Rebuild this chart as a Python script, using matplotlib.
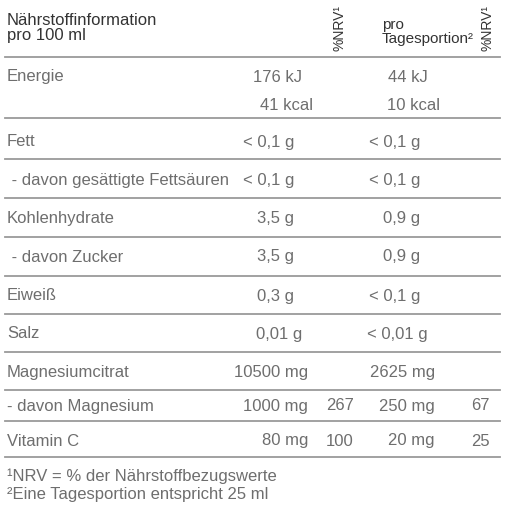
import matplotlib.pyplot as plt

FONT = ['Liberation Sans', 'DejaVu Sans']

labels = ["Energie", "", "Fett", " - davon gesättigte Fettsäuren", "Kohlenhydrate", " - davon Zucker",
          "Eiweiß", "Salz", "Magnesiumcitrat", "- davon Magnesium", "Vitamin C"]
per100 = ["176 kJ", "41 kcal", "< 0,1 g", "< 0,1 g", "3,5 g", "3,5 g", "0,3 g", "0,01 g", "10500 mg", "1000 mg", "80 mg"]
nrv1 = ["", "", "", "", "", "", "", "", "", "267", "100"]
perday = ["44 kJ", "10 kcal", "< 0,1 g", "< 0,1 g", "0,9 g", "0,9 g", "< 0,1 g", "< 0,01 g", "2625 mg", "250 mg", "20 mg"]
nrv2 = ["", "", "", "", "", "", "", "", "", "67", "25"]
footnotes = ["¹NRV = % der Nährstoffbezugswerte", "²Eine Tagesportion entspricht 25 ml"]

row_y = [77, 105, 142, 180, 218, 257, 296, 334, 372, 406, 441]
x1 = [302, 313, 294, 294, 294, 294, 294, 302, 308, 308, 308]
x2 = [428, 440, 420, 420, 420, 420, 420, 428, 435, 435, 435]
lines_y = [57, 118, 159, 198, 237, 276, 314, 352, 390, 421, 457]

fig = plt.figure(figsize=(5.12, 5.12), dpi=100)
ax = fig.add_axes([0, 0, 1, 1])
ax.set_xlim(0, 512); ax.set_ylim(512, 0); ax.axis('off')
fs = 12
gray = '#6e6e6e'; dark = '#333333'
ax.text(7, 28, "Nährstoffinformation\npro 100 ml", fontsize=fs, color=dark, va='center', family=FONT, linespacing=1.05)
ax.text(382, 32, "pro\nTagesportion²", fontsize=11, color=dark, va='center', family=FONT, linespacing=1.05)
for xx in (340, 488):
    ax.text(xx, 28, "%NRV¹", fontsize=10, color=dark, rotation=90, ha='center', va='center', family=FONT)
for ly in lines_y:
    ax.plot([5, 500], [ly, ly], color='#9a9a9a', lw=1.3)
for i, y in enumerate(row_y):
    ax.text(7, y, labels[i], fontsize=fs, color=gray, va='center', family=FONT)
    ax.text(x1[i], y, per100[i], fontsize=fs, color=gray, va='center', ha='right', family=FONT)
    ax.text(326, y, nrv1[i], fontsize=fs, color=gray, va='center', ha='left', family=FONT)
    ax.text(x2[i], y, perday[i], fontsize=fs, color=gray, va='center', ha='right', family=FONT)
    ax.text(490, y, nrv2[i], fontsize=fs, color=gray, va='center', ha='right', family=FONT)
ax.text(7, 476, footnotes[0], fontsize=fs, color=gray, va='center', family=FONT)
ax.text(7, 494, footnotes[1], fontsize=fs, color=gray, va='center', family=FONT)
fig.savefig('out.png', dpi=100)
